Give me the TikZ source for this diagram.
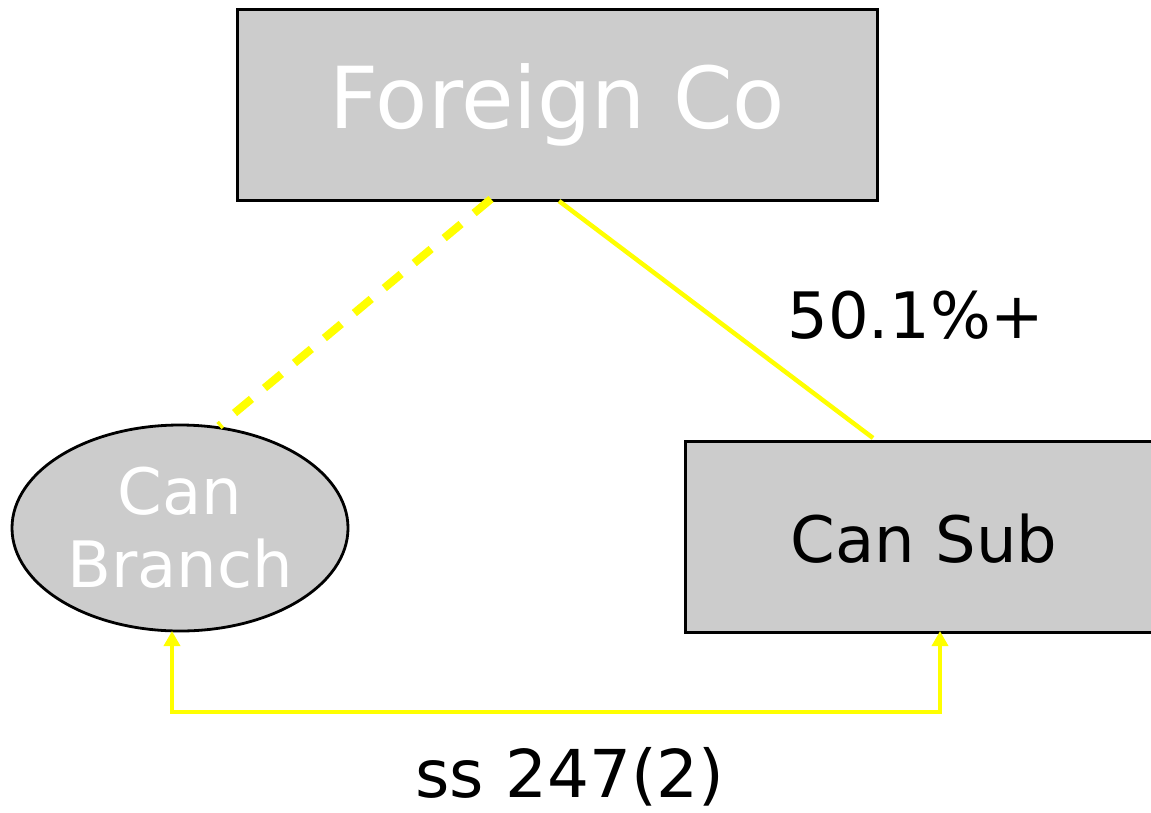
\documentclass[tikz,border=0pt]{standalone}
\usepackage{fontspec}
\setmainfont{DejaVu Sans}
\usetikzlibrary{arrows.meta,shapes.geometric}
\definecolor{boxgrey}{HTML}{CCCCCC}
\definecolor{linkyellow}{HTML}{FFFF00}
\tikzset{
  entity/.style={draw=black, line width=2.8pt, fill=boxgrey, inner sep=0pt},
  link/.style={draw=linkyellow, line width=4.5pt},
  owned/.style={draw=linkyellow, line width=8pt, dash pattern=on 22pt off 17pt},
  elect/.style={draw=linkyellow, line width=3.5pt,
    {Triangle[width=16pt,length=15pt]}-{Triangle[width=16pt,length=15pt]}},
}
\begin{document}
\begin{tikzpicture}[x=1pt,y=-1pt]
  \useasboundingbox (0,0) rectangle (1151,812);
  % entities
  \node[entity, minimum width=640pt, minimum height=191pt, anchor=north west,
        text=white, font=\fontsize{85.5}{100}\selectfont] (foreign) at (236,8) {Foreign Co};
  \node[entity, ellipse, minimum width=336pt, minimum height=206pt,
        text=white, align=center, font=\fontsize{64}{73}\selectfont] (branch) at (180,528) {Can\\Branch};
  \node[entity, minimum width=500pt, minimum height=191pt, anchor=north west] (sub) at (684,440) {};
  \node[font=\fontsize{64}{76}\selectfont, anchor=base] (subtxt) at (924,562) {Can Sub};
  % ownership links
  \coordinate (fdash) at (491,199);
  \coordinate (fsolid) at (559,201);
  \coordinate (bdash) at (219,426);
  \coordinate (ssolid) at (873,438);
  \draw[owned] (fdash) -- (bdash);
  \draw[link] (fsolid) -- (ssolid);
  \node[font=\fontsize{64}{76}\selectfont, anchor=base] (pct) at (916,338) {50.1\%+};
  % election between branch and subsidiary
  \coordinate (bbot) at (172,631);
  \coordinate (sbot) at (940,631);
  \draw[elect] (bbot) -- (172,712) -- (940,712) -- (sbot);
  \node[font=\fontsize{66}{78}\selectfont, anchor=base] (ss) at (570,797) {ss 247(2)};
\end{tikzpicture}
\end{document}
